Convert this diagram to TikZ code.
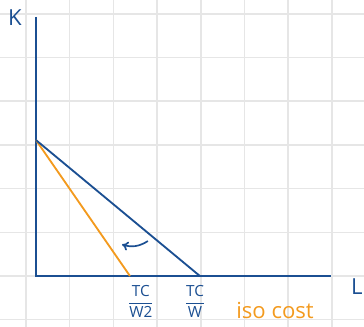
\documentclass[tikz,border=0pt]{standalone}
\usepackage{fontspec}
\setsansfont{Open Sans}
\usetikzlibrary{arrows.meta}
\definecolor{tinta}{HTML}{1B4F92}
\definecolor{naranja}{HTML}{F39A1E}
\definecolor{rejilla}{HTML}{E6E6E6}
\tikzset{
    eje/.style={draw=tinta, line width=1.4pt},
    isocosto/.style={line width=1.2pt},
    rotulo/.style={text=tinta, font=\sffamily\Large, inner sep=0pt}
}
\begin{document}
\begin{tikzpicture}
    \useasboundingbox (-0.824,-1.167) rectangle (7.506,6.316);
    % Cuadricula de fondo
    \foreach \i in {0,...,7}
        \draw[rejilla, line width=1pt] (-0.229+\i,-1.167) -- (-0.229+\i,6.316);
    \foreach \j in {-1,...,6}
        \draw[rejilla, line width=1pt] (-0.824,\j) -- (7.506,\j);
    
    % Puntos de corte
    \coordinate (O) at (0,0);
    \coordinate (Kmax) at (0,3.11);
    \coordinate (L1) at (3.75,0);
    \coordinate (L2) at (2.15,0);
    \coordinate (Ktop) at (0,5.93);
    \coordinate (Lend) at (6.75,0);
    
    % Ejes
    \draw[eje] (Ktop) -- (O) -- (Lend);
    
    % Rectas de isocosto
    \draw[isocosto, naranja] (Kmax) -- (L2);
    \draw[isocosto, tinta] (Kmax) -- (L1);
    
    % Desplazamiento
    \coordinate (flechaA) at (2.56,0.80);
    \coordinate (flechaB) at (1.97,0.72);
    \draw[tinta, line width=1.1pt, -{To[length=4pt,width=6pt]}] (flechaA) to[bend left=25] (flechaB);
    
    % Etiquetas
    \node[rotulo] (K) at (-0.48,5.92) {K};
    \node[rotulo] (L) at (7.34,-0.25) {L};
    \node[rotulo, font=\sffamily\normalsize] (TCW2) at (2.4,-0.58) {$\displaystyle\frac{\textsf{TC}}{\textsf{W2}}$};
    \node[rotulo, font=\sffamily\normalsize] (TCW) at (3.64,-0.58) {$\displaystyle\frac{\textsf{TC}}{\textsf{W}}$};
    \node[rotulo, text=naranja, font=\sffamily\Large] (iso) at (5.47,-0.8) {iso cost};
\end{tikzpicture}
\end{document}
